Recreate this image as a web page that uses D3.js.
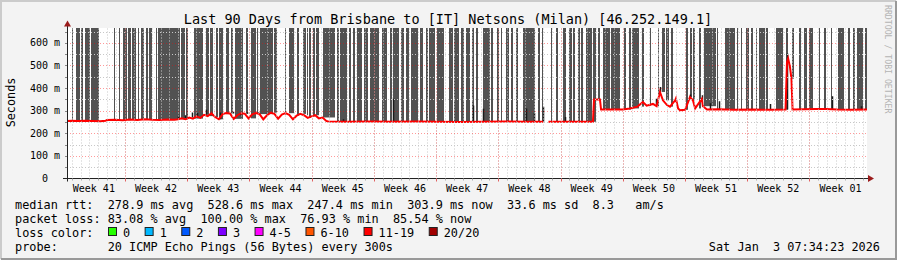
<!DOCTYPE html>
<html>
<head>
<meta charset="utf-8">
<script src="https://cdn.jsdelivr.net/npm/d3@7"></script>
<style>
  html, body { margin: 0; padding: 0; background: #f3f3f3; }
  svg text { font-family: "DejaVu Sans Mono", monospace; white-space: pre; }
</style>
</head>
<body>
<div id="chart"></div>
<script>
// time is kept as hours since the start of the 90 day window, rtt in ms
var startTime = Date.UTC(2025, 9, 5, 11, 30);
var spanHours = 2160;

// median rtt, [hour, ms]  (null = 20/20 lost)
var medianPts = [
  [0,254],[12,255],[30,254],[50,255],[70,254],[90,253],[104,255],[108,259],[130,260],[150,258],
  [170,261],[190,259],[210,262],[230,260],[250,259],[270,261],[290,260],
  [300,262],[310,266],[320,262],[330,270],[340,265],[350,275],[360,268],[370,282],[380,276],
  [390,288],[400,272],[410,262],[420,285],[430,290],[440,288],[450,264],[460,280],[470,289],
  [480,287],[490,266],[500,284],[510,290],[520,285],[530,262],[540,280],[550,291],[560,286],
  [570,265],[580,283],[590,289],[600,282],[610,262],[620,278],[630,286],[640,280],[650,268],
  [660,275],[670,280],[680,266],[690,270],[700,255],
  [705,252],[760,251],[820,252],[880,251],[940,252],[1000,251],[1060,250],[1120,251],[1180,252],
  [1240,251],[1286,251],[1288,null],[1298,null],[1300,251],[1360,251],[1420,251],
  [1423,350],[1439,350],[1442,305],[1480,305],[1500,305],[1520,310],[1540,318],[1555,338],
  [1565,322],[1582,330],[1592,320],[1601,383],[1609,346],[1620,325],[1628,318],[1642,346],
  [1644,354],[1650,310],[1655,302],[1669,304],[1682,360],[1690,346],[1696,310],[1714,352],
  [1717,320],[1728,305],[1760,306],[1800,304],[1850,305],[1900,304],[1940,305],[1944,515],
  [1947,531],[1952,494],[1956,442],[1959,305],[1990,306],[2020,308],[2050,307],[2080,305],
  [2120,304],[2160,305]
];

// top of the smoke where it sticks out above the median, [hour, ms]
var smokeTops = [
  [300,275],[319,280],[338,292],[351,290],[375,304],[413,292],[448,295],[467,290],[486,293],
  [516,294],[745,262],[881,353],[1095,323],[1122,309],[1239,310],[1261,290],[1285,318],
  [1345,272],[1590,353],[1601,405],[1682,372],[1714,368],[1736,333],[1760,342],[1898,330],
  [1943,553],[2065,364],[2144,320]
];

// periods where the smoke runs off the top of the graph, [from hour, to hour]
var lossBars = [
  [13,16],[23,35],[37,44],[48,63],[66,86],[126,130],[141,144],[151,161],[164,173],[176,186],
  [191,194],[201,208],[212,218],[222,230],[239,242],[245,299],[301,304],[309,318],[321,326],
  [344,368],[374,383],[386,395],[401,408],[411,420],[428,438],[442,447],[453,474],[483,488],
  [498,509],[512,516],[521,555],[559,568],[588,591],[599,613],[620,626],[638,644],[647,651],
  [654,660],[663,669],[672,680],[690,723],[730,734],[737,757],[762,768],[773,777],[782,797],
  [802,813],[818,842],[851,865],[872,878],[881,896],[901,910],[915,924],[930,948],[953,962],
  [969,975],[978,993],[998,1018],[1031,1041],[1046,1058],[1065,1072],[1077,1088],[1094,1099],
  [1103,1110],[1124,1142],[1146,1149],[1160,1167],[1171,1175],[1185,1194],[1198,1203],
  [1212,1218],[1232,1263],[1272,1277],[1283,1286],[1306,1310],[1319,1326],[1340,1347],
  [1356,1363],[1365,1371],[1380,1385],[1389,1394],[1401,1418],[1421,1428],[1434,1439],
  [1446,1466],[1470,1493],[1504,1509],[1517,1522],[1526,1545],[1553,1558],[1574,1578],
  [1596,1599],[1607,1614],[1617,1626],[1632,1635],[1671,1677],[1682,1687],[1691,1695],
  [1706,1711],[1720,1751],[1754,1758],[1776,1803],[1808,1812],[1819,1822],[1833,1841],
  [1848,1853],[1859,1862],[1869,1884],[1887,1893],[1914,1932],[1941,1947],[1958,1963],
  [1977,1983],[1990,1997],[2003,2013],[2030,2033],[2044,2049],[2062,2066],[2082,2098],
  [2109,2114],[2121,2127],[2134,2148],[2155,2161]
];

var lossLabels = ['0', '1', '2', '3', '4-5', '6-10', '11-19', '20/20'];
var lossColors = ['#26ff00', '#00b8ff', '#0059ff', '#7e00ff', '#ff00ff', '#ff5500', '#ff0000', '#a10000'];

var titleText = 'Last 90 Days from Brisbane to [IT] Netsons (Milan) [46.252.149.1]';
var rttLine = 'median rtt:  278.9 ms avg  528.6 ms max  247.4 ms min  303.9 ms now  33.6 ms sd  8.3   am/s';
var lossLine = 'packet loss: 83.08 % avg  100.00 % max  76.93 % min  85.54 % now';
var probeLine = 'probe:       20 ICMP Echo Pings (56 Bytes) every 300s';
var stampText = 'Sat Jan  3 07:34:23 2026';
var yMax = 0.6637; // seconds

function hourDate(h) { return new Date(startTime + h * 3600e3); }

var W = 897, H = 260;
var plotL = 67, plotR = 867, plotT = 28.5, plotB = 178.5;

var x = d3.scaleTime().domain([hourDate(0), hourDate(spanHours)]).range([plotL, plotR]);
var y = d3.scaleLinear().domain([0, yMax]).range([plotB, plotT]);

var svg = d3.select('#chart').append('svg')
    .attr('width', W)
    .attr('height', H);

// background + shaded frame
svg.append('rect').attr('width', W).attr('height', H).attr('fill', '#f3f3f3');
svg.append('path').attr('d', 'M1,' + (H - 1) + 'V1H' + (W - 1)).attr('stroke', '#cbcbcb').attr('stroke-width', 2).attr('fill', 'none');
svg.append('path').attr('d', 'M1,' + (H - 1) + 'H' + (W - 1) + 'V1').attr('stroke', '#999').attr('stroke-width', 2).attr('fill', 'none');

svg.append('rect')
    .attr('x', plotL).attr('y', plotT - 0.5)
    .attr('width', plotR - plotL).attr('height', plotB - plotT + 0.5)
    .attr('fill', '#fff');

svg.append('clipPath').attr('id', 'plotclip')
    .append('rect').attr('x', plotL).attr('y', plotT - 0.5).attr('width', plotR - plotL).attr('height', plotB - plotT + 0.5);
var plot = svg.append('g').attr('clip-path', 'url(#plotclip)');

function medianAt(h) {
    var i = d3.bisector(function (d) { return d[0]; }).right(medianPts, h) - 1;
    while (i > 0 && medianPts[i][1] == null) i--;
    return medianPts[Math.max(i, 0)][1];
}

// smoke bars that run off the top
plot.selectAll('rect.loss')
    .data(lossBars)
    .enter()
    .append('rect')
    .attr('class', 'loss')
    .attr('x', function (d) { return Math.round(x(hourDate(d[0]))); })
    .attr('width', function (d) { return Math.max(1, Math.round(x(hourDate(d[1]))) - Math.round(x(hourDate(d[0])))); })
    .attr('y', plotT - 0.5)
    .attr('height', function (d) { return y(medianAt(d[0]) / 1000) - plotT + 0.5; })
    .attr('fill', '#525252');

// grid on top of the graph, like rrdtool does it
var t0 = hourDate(0), t1 = hourDate(spanHours);
var days = d3.utcDay.range(t0, t1);
var weeks = d3.utcSunday.range(t0, t1);
var minorY = d3.range(0.05, yMax, 0.1);
var majorY = y.ticks(7).filter(function (d) { return d > 0; });

var grid = svg.append('g');
grid.selectAll('line.vminor').data(days).enter().append('line')
    .attr('x1', function (d) { return Math.round(x(d)) + 0.5; })
    .attr('x2', function (d) { return Math.round(x(d)) + 0.5; })
    .attr('y1', plotT).attr('y2', plotB)
    .attr('stroke', '#c8c8c8').attr('stroke-dasharray', '1,2');
grid.selectAll('line.hminor').data(minorY).enter().append('line')
    .attr('x1', plotL).attr('x2', plotR)
    .attr('y1', function (d) { return Math.round(y(d)) + 0.5; })
    .attr('y2', function (d) { return Math.round(y(d)) + 0.5; })
    .attr('stroke', '#c8c8c8').attr('stroke-dasharray', '1,2');
grid.selectAll('line.vmajor').data(weeks).enter().append('line')
    .attr('x1', function (d) { return Math.round(x(d)) + 0.5; })
    .attr('x2', function (d) { return Math.round(x(d)) + 0.5; })
    .attr('y1', plotT).attr('y2', plotB)
    .attr('stroke', 'rgba(255,0,0,0.4)').attr('stroke-dasharray', '1,2');
grid.selectAll('line.hmajor').data(majorY).enter().append('line')
    .attr('x1', plotL).attr('x2', plotR)
    .attr('y1', function (d) { return Math.round(y(d)) + 0.5; })
    .attr('y2', function (d) { return Math.round(y(d)) + 0.5; })
    .attr('stroke', 'rgba(255,0,0,0.4)').attr('stroke-dasharray', '1,2');

// smoke spikes above the median
plot.selectAll('line.smoke')
    .data(smokeTops)
    .enter()
    .append('line')
    .attr('x1', function (d) { return Math.round(x(hourDate(d[0]))) + 0.5; })
    .attr('x2', function (d) { return Math.round(x(hourDate(d[0]))) + 0.5; })
    .attr('y1', function (d) { return y(medianAt(d[0]) / 1000); })
    .attr('y2', function (d) { return y(d[1] / 1000); })
    .attr('stroke', '#1a1a1a')
    .attr('stroke-width', 1.5);

// median line
var line = d3.line()
    .defined(function (d) { return d[1] != null; })
    .x(function (d) { return x(hourDate(d[0])); })
    .y(function (d) { return y(d[1] / 1000); });

plot.append('path')
    .datum(medianPts)
    .attr('d', line)
    .attr('fill', 'none')
    .attr('stroke', '#ff0000')
    .attr('stroke-width', 2);

// axes
var axisColor = '#222', arrowColor = '#9b1c1c';
svg.append('line').attr('x1', plotL - 4).attr('x2', plotR + 3).attr('y1', plotB).attr('y2', plotB).attr('stroke', axisColor);
svg.append('line').attr('x1', plotL + 0.5).attr('x2', plotL + 0.5).attr('y1', plotB + 3).attr('y2', plotT - 3).attr('stroke', axisColor);
svg.append('path').attr('d', 'M' + (plotR + 1) + ',' + (plotB - 3.5) + 'L' + (plotR + 7) + ',' + plotB + 'L' + (plotR + 1) + ',' + (plotB + 3.5) + 'Z').attr('fill', arrowColor);
svg.append('path').attr('d', 'M' + (plotL - 3) + ',' + (plotT - 2) + 'L' + (plotL + 0.5) + ',' + (plotT - 8) + 'L' + (plotL + 4) + ',' + (plotT - 2) + 'Z').attr('fill', arrowColor);

// small ticks below the x axis and left of the y axis
svg.selectAll('line.dtick').data(days).enter().append('line')
    .attr('x1', function (d) { return Math.round(x(d)) + 0.5; })
    .attr('x2', function (d) { return Math.round(x(d)) + 0.5; })
    .attr('y1', plotB).attr('y2', plotB + 2)
    .attr('stroke', '#aaa');
svg.selectAll('line.wtick').data(weeks).enter().append('line')
    .attr('x1', function (d) { return Math.round(x(d)) + 0.5; })
    .attr('x2', function (d) { return Math.round(x(d)) + 0.5; })
    .attr('y1', plotB).attr('y2', plotB + 3)
    .attr('stroke', '#e06060');
svg.selectAll('line.ytick').data(majorY.concat(minorY)).enter().append('line')
    .attr('x1', plotL - 2).attr('x2', plotL)
    .attr('y1', function (d) { return Math.round(y(d)) + 0.5; })
    .attr('y2', function (d) { return Math.round(y(d)) + 0.5; })
    .attr('stroke', '#888');

// y labels
svg.selectAll('text.ylab')
    .data(y.ticks(7))
    .enter()
    .append('text')
    .attr('x', 30)
    .attr('y', function (d) { return y(d); })
    .attr('dy', '0.36em')
    .attr('font-size', '10px')
    .text(function (d) {
        var v = Math.round(d * 1000);
        return (v === 0 ? '  0' : String(v).padStart(3)) + (v === 0 ? '  ' : ' m');
    });

// week labels, centred between the week lines
var weekMids = d3.utcSunday.range(d3.utcSunday.floor(t0), t1)
    .map(function (d) { return d3.utcHour.offset(d, 84); })
    .filter(function (d) { return d >= t0 && d <= t1; });
svg.selectAll('text.wlab')
    .data(weekMids)
    .enter()
    .append('text')
    .attr('x', function (d) { return x(d); })
    .attr('y', 191.5)
    .attr('text-anchor', 'middle')
    .attr('font-size', '10px')
    .text(d3.utcFormat('Week %V'));

// titles
svg.append('text')
    .attr('x', 448).attr('y', 24)
    .attr('text-anchor', 'middle')
    .attr('font-size', '13.5px')
    .text(titleText);

svg.append('text')
    .attr('transform', 'translate(15,102.5) rotate(-90)')
    .attr('text-anchor', 'middle')
    .attr('font-size', '11.8px')
    .text('Seconds');

svg.append('text')
    .attr('transform', 'translate(885,5) rotate(90)')
    .attr('font-size', '8.2px')
    .attr('fill', '#b4b4b4')
    .text('RRDTOOL / TOBI OETIKER');

// legend
var legendFont = '11.85px';
svg.append('text').attr('x', 15).attr('y', 208.5).attr('font-size', legendFont).text(rttLine);
svg.append('text').attr('x', 15).attr('y', 222.5).attr('font-size', legendFont).text(lossLine);
svg.append('text').attr('x', 15).attr('y', 236.5).attr('font-size', legendFont).text('loss color:');
svg.append('text').attr('x', 15).attr('y', 250.5).attr('font-size', legendFont).text(probeLine);
svg.append('text').attr('x', 880).attr('y', 250.5).attr('text-anchor', 'end').attr('font-size', legendFont).text(stampText);

var charW = 7.14;
var lx = 108;
lossLabels.forEach(function (lab, i) {
    svg.append('rect')
        .attr('x', lx + 0.5).attr('y', 227.5)
        .attr('width', 8).attr('height', 8)
        .attr('fill', lossColors[i])
        .attr('stroke', '#222');
    svg.append('text')
        .attr('x', lx + 15).attr('y', 236.5)
        .attr('font-size', legendFont)
        .text(lab);
    lx += 15 + lab.length * charW + 14.5;
});
</script>
</body>
</html>
